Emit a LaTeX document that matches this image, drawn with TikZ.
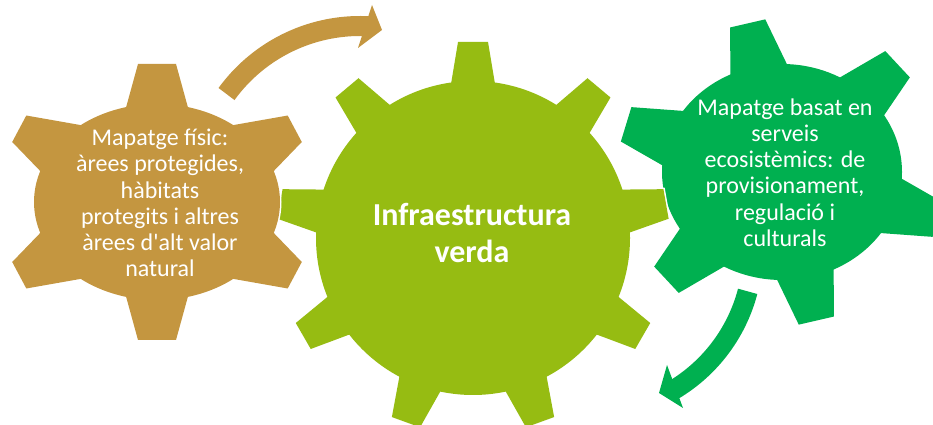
\documentclass[tikz,border=0pt]{standalone}
\usepackage{fontspec}
\setmainfont[Ligatures=TeXOff]{Carlito}
\definecolor{brownc}{RGB}{196,150,64}
\definecolor{limec}{RGB}{150,188,18}
\definecolor{greenc}{RGB}{0,176,80}
\newcommand{\gtooth}[7]{%
  \pgfmathsetmacro\gwi{#7+(#7-#6)*20/#5}%
  \pgfmathsetmacro\gri{#4-20}%
  \pgfmathsetmacro\gro{#4+#5}%
  \path[shift={#2}, rotate=#3, #1] (\gri,-\gwi) -- (\gro,-#6) -- (\gro,#6) -- (\gri,\gwi) -- cycle;%
}
\newcommand{\drawgear}[5]{%
  \path[#1] #2 ellipse[x radius=#3pt, y radius=#4pt];%
  \foreach \ta/\trb/\tl/\twt/\twb in {#5} {\gtooth{#1}{#2}{\ta}{\trb}{\tl}{\twt}{\twb}}%
}
\tikzset{
  halo/.style={draw=white, line width=3pt},
  sidetext/.style={text=white, align=center, font=\fontsize{24}{26.2}\selectfont},
  midtext/.style={text=white, align=center, font=\fontsize{32}{37}\selectfont\bfseries},
  shaft/.style={line width=20pt}
}
\begin{document}
\begin{tikzpicture}[x=1pt, y=1pt]
\useasboundingbox (0,0) rectangle (933,425);
\fill[white] (0,0) rectangle (933,425);
\clip (0,0) rectangle (933,425);

% right gear
\drawgear{halo}{(782,253)}{120}{108}{103/108.5/44/18/28, 43/114/44/18/28, -17/119/44/18/28, -77/108.5/44/18/28, -137/114/44/18/28, 163/119/44/18/28}
\drawgear{fill=greenc}{(782,253)}{120}{108}{103/108.5/44/18/28, 43/114/44/18/28, -17/119/44/18/28, -77/108.5/44/18/28, -137/114/44/18/28, 163/119/44/18/28}

% middle gear
\drawgear{halo}{(473,187)}{157}{157}{90/157/39/15/21.5, 50/157/39/15/21.5, 10/157/39/15/21.5, -30/157/39/15/21.5, -70/157/39/15/21.5, -110/157/39/15/21.5, -150/157/39/15/21.5, 170/157/39/15/21.5, 130/157/39/15/21.5}
\drawgear{fill=limec}{(473,187)}{157}{157}{90/157/39/15/21.5, 50/157/39/15/21.5, 10/157/39/15/21.5, -30/157/39/15/21.5, -70/157/39/15/21.5, -110/157/39/15/21.5, -150/157/39/15/21.5, 170/157/39/15/21.5, 130/157/39/15/21.5}

% left gear
\drawgear{halo}{(157,223)}{123}{98}{90/98/40/19/30, -90/98/40/19/30, 28/116/40/15/28, -28/116/40/15/28, 152/116/40/15/28, -152/116/40/15/28}
\drawgear{fill=brownc}{(157,223)}{123}{98}{90/98/40/19/30, -90/98/40/19/30, 28/116/40/15/28, -28/116/40/15/28, 152/116/40/15/28, -152/116/40/15/28}

% top arrow
\coordinate (tc) at (360,234);
\coordinate (th1) at (372,420);
\coordinate (th2) at (382,395);
\coordinate (th3) at (358,377);
\draw[brownc, shaft] ([shift={(144:165pt)}]tc) arc[start angle=144, end angle=86, radius=165pt];
\fill[brownc] (th1) -- (th2) -- (th3) -- cycle;

% bottom arrow
\coordinate (bc) at (590,175);
\coordinate (bh1) at (667,60);
\coordinate (bh2) at (659,32);
\coordinate (bh3) at (683,17);
\draw[greenc, shaft] ([shift={(-14.7:163pt)}]bc) arc[start angle=-14.7, end angle=-61, radius=163pt];
\fill[greenc] (bh1) -- (bh2) -- (bh3) -- cycle;

% texts
\node[sidetext] (lt) at (160,222) {Mapatge físic:\\àrees protegides,\\hàbitats\\protegits i altres\\àrees d'alt valor\\natural};
\node[midtext] (mt) at (472,192) {Infraestructura\\verda};
\node[sidetext] (rt) at (785,252.5) {Mapatge basat en\\serveis\\ecosistèmics: de\\provisionament,\\regulació i\\culturals};
\end{tikzpicture}
\end{document}
